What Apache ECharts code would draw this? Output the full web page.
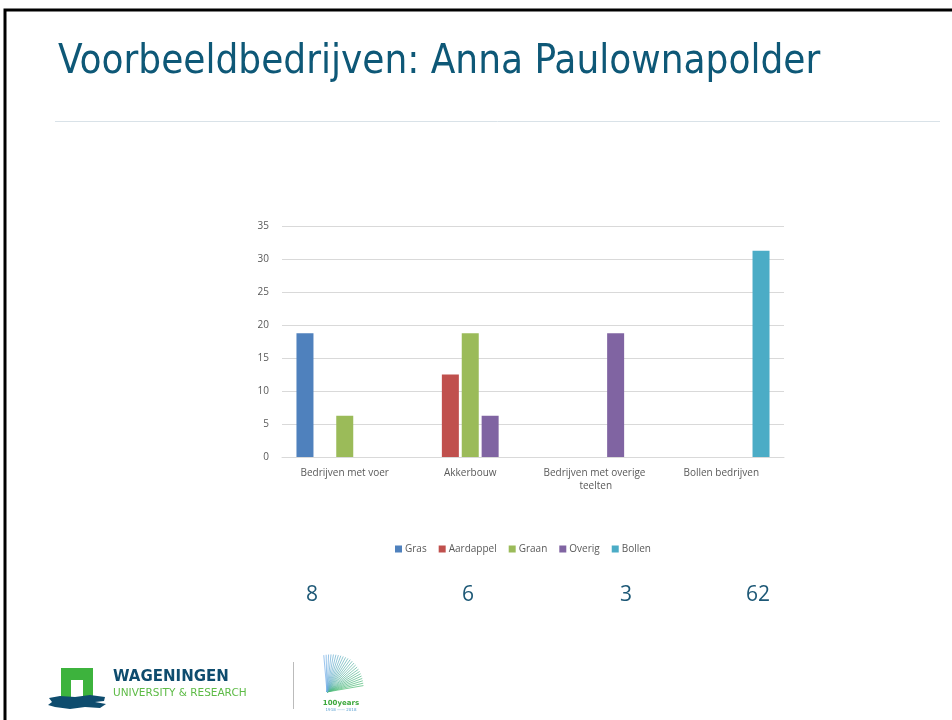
<!DOCTYPE html>
<html>
<head>
<meta charset="utf-8">
<script src="https://cdn.jsdelivr.net/npm/echarts@6/dist/echarts.min.js"></script>
<style>
html,body{margin:0;padding:0;background:#fff;}
#chart{width:952px;height:720px;}
</style>
</head>
<body>
<div id="chart"></div>
<script>
var titleText = 'Voorbeeldbedrijven: Anna Paulownapolder';
var categories = ['Bedrijven met voer', 'Akkerbouw', 'Bedrijven met overige teelten', 'Bollen bedrijven'];
var seriesNames = ['Gras', 'Aardappel', 'Graan', 'Overig', 'Bollen'];
var gras      = [18.75, 0, 0, 0];
var aardappel = [0, 12.5, 0, 0];
var graan     = [6.25, 18.75, 0, 0];
var overig    = [0, 6.25, 18.75, 0];
var bollen    = [0, 0, 0, 31.25];
var yTicks = [0, 5, 10, 15, 20, 25, 30, 35];
var companyCounts = ['8', '6', '3', '62'];

var colors = ['#4F81BD', '#C0504D', '#9BBB59', '#8064A2', '#4BACC6'];
var seriesData = [gras, aardappel, graan, overig, bollen];

var chart = echarts.init(document.getElementById('chart'), null, {renderer: 'canvas'});

var countX = [312, 468, 626, 758];
var graphics = [
  {type: 'rect', shape: {x: 5, y: 10, width: 1000, height: 800}, style: {fill: 'none', stroke: '#000', lineWidth: 3}, silent: true},
  {type: 'line', shape: {x1: 55, y1: 121.5, x2: 940, y2: 121.5}, style: {stroke: '#D9E2E8', lineWidth: 1}},
  // Wageningen logo
  {type: 'polygon', shape: {points: [[61,668],[93,668],[93,699],[83,699],[83,680],[71,680],[71,699],[61,699]]}, style: {fill: '#3DB33D'}},
  {type: 'polygon', shape: {points: [[49,698],[60,696],[75,697],[90,695],[105,697],[104,701],[95,702],[106,704],[100,708],[85,707],[70,709],[55,707],[48,705],[52,702]]}, style: {fill: '#0E4C6E'}},
  {type: 'text', x: 113, y: 677, style: {text: 'WAGENINGEN', font: 'bold 15px "DejaVu Sans"', fill: '#0E4C6E', textVerticalAlign: 'middle', verticalAlign: 'middle'}},
  {type: 'text', x: 113, y: 693, style: {text: 'UNIVERSITY & RESEARCH', font: '10.5px "DejaVu Sans"', fill: '#5DBB46', textVerticalAlign: 'middle', verticalAlign: 'middle'}},
  {type: 'line', shape: {x1: 293.5, y1: 662, x2: 293.5, y2: 709}, style: {stroke: '#BBBBBB', lineWidth: 1}},
  {type: 'text', x: 341, y: 703, style: {text: '100years', font: 'bold 7px "DejaVu Sans"', fill: '#3DA83D', align: 'center', textAlign: 'center', verticalAlign: 'middle', textVerticalAlign: 'middle'}},
  {type: 'text', x: 341, y: 710, style: {text: '1918 —— 2018', font: '4px "DejaVu Sans"', fill: '#5AA0D0', align: 'center', textAlign: 'center', verticalAlign: 'middle', textVerticalAlign: 'middle'}}
];
// fan lines of the centenary logo
for (var i = 0; i < 24; i++) {
  var t = i / 23;
  var a = (-10 - t * 85) * Math.PI / 180;
  var cx = 327, cy = 692, r = 40 - 6 * Math.abs(t - 0.5);
  var col = 'rgb(' + Math.round(70 + 40 * t) + ',' + Math.round(185 - 15 * t) + ',' + Math.round(110 + 120 * t) + ')';
  graphics.push({type: 'line', shape: {x1: cx, y1: cy, x2: cx + r * Math.cos(a), y2: cy + r * Math.sin(a)}, style: {stroke: col, lineWidth: 0.7}});
}
companyCounts.forEach(function (c, i) {
  graphics.push({type: 'text', x: countX[i], y: 595, style: {text: c, font: '21px "Open Sans"', fill: '#1D5876', align: 'center', textAlign: 'center', verticalAlign: 'middle', textVerticalAlign: 'middle'}});
});

var option = {
  animation: false,
  backgroundColor: '#fff',
  color: colors,
  title: {
    text: titleText,
    left: 53, top: 38,
    textStyle: {fontFamily: '"DejaVu Sans Condensed", "DejaVu Sans"', fontWeight: 'normal', fontSize: 40, color: '#0E5877'}
  },
  legend: {
    data: seriesNames,
    left: 390, top: 539,
    itemWidth: 7, itemHeight: 7, itemGap: 12,
    icon: 'rect',
    textStyle: {fontFamily: '"Open Sans"', fontSize: 10, color: '#595959', padding: [0, 0, 0, -2]}
  },
  grid: {left: 282, right: 168, top: 226, bottom: 263, containLabel: false},
  xAxis: {
    type: 'category',
    data: categories,
    axisLine: {show: true, lineStyle: {color: '#D9D9D9', width: 1}},
    axisTick: {show: false},
    axisLabel: {
      interval: 0, margin: 10, width: 118, overflow: 'break',
      fontFamily: '"Open Sans"', fontSize: 10, color: '#595959', lineHeight: 13
    }
  },
  yAxis: {
    type: 'value', min: 0, max: 35, interval: 5,
    axisLine: {show: false}, axisTick: {show: false},
    splitLine: {lineStyle: {color: '#D9D9D9', width: 1}},
    axisLabel: {margin: 13, fontFamily: '"Open Sans"', fontSize: 10, color: '#595959',
      formatter: function (v) { return yTicks.indexOf(v) >= 0 ? String(v) : ''; }}
  },
  series: seriesNames.map(function (n, i) {
    return {
      name: n, type: 'bar', data: seriesData[i],
      barWidth: 17, barGap: '17%',
      itemStyle: {color: colors[i]}
    };
  }),
  graphic: graphics
};
chart.setOption(option);
</script>
</body>
</html>
